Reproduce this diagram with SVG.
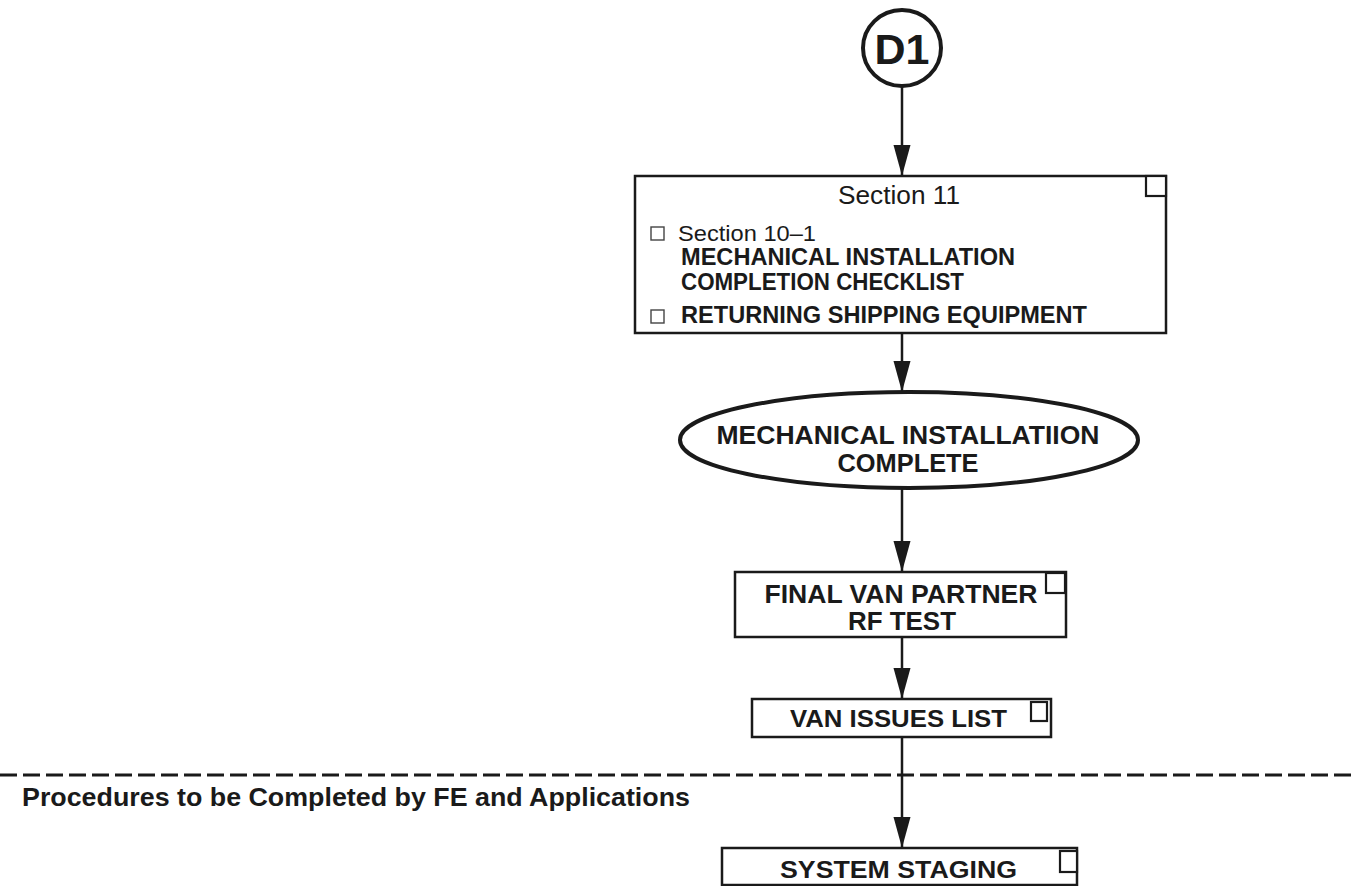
<svg xmlns="http://www.w3.org/2000/svg" width="1356" height="886" viewBox="0 0 1356 886">
  <defs>
    <marker id="arrow" markerUnits="userSpaceOnUse" markerWidth="32" markerHeight="18" refX="31" refY="8.5" orient="auto">
      <path d="M0,0 L31,8.5 L0,17 Z" fill="#1a1a1a"/>
    </marker>
    <style>
      .box { fill: #ffffff; stroke: #1a1a1a; stroke-width: 2.5; }
      .tick { fill: #ffffff; stroke: #1a1a1a; stroke-width: 2.2; }
      .chk { fill: none; stroke: #444; stroke-width: 1.4; }
      .wire { stroke: #1a1a1a; stroke-width: 2.5; fill: none; }
      .b { font-family: "Liberation Sans", Arial, sans-serif; font-weight: bold; fill: #1a1a1a; }
      .r { font-family: "Liberation Sans", Arial, sans-serif; fill: #1a1a1a; }
    </style>
  </defs>
  <rect width="1356" height="886" fill="#ffffff"/>

  <!-- section divider -->
  <line x1="0" y1="775" x2="1356" y2="775" stroke="#1a1a1a" stroke-width="2.8" stroke-dasharray="17 6"/>
  <text class="b" x="22" y="806" font-size="25" textLength="668" lengthAdjust="spacingAndGlyphs">Procedures to be Completed by FE and Applications</text>

  <!-- connectors -->
  <g id="connectors">
    <line class="wire" x1="902" y1="87" x2="902" y2="176" marker-end="url(#arrow)"/>
    <line class="wire" x1="902" y1="334" x2="902" y2="392" marker-end="url(#arrow)"/>
    <line class="wire" x1="902" y1="489" x2="902" y2="572" marker-end="url(#arrow)"/>
    <line class="wire" x1="902" y1="638" x2="902" y2="699" marker-end="url(#arrow)"/>
    <line class="wire" x1="902" y1="738" x2="902" y2="848" marker-end="url(#arrow)"/>
  </g>

  <!-- off-page connector D1 -->
  <g id="d1">
    <ellipse cx="902" cy="48" rx="39" ry="38" fill="#ffffff" stroke="#1a1a1a" stroke-width="4"/>
    <text class="b" x="902" y="64" font-size="43" text-anchor="middle">D1</text>
  </g>

  <!-- section 11 checklist -->
  <g id="section11">
    <rect class="box" x="635" y="176" width="531" height="157"/>
    <rect class="tick" x="1146" y="176" width="20" height="20"/>
    <text class="r" x="899" y="204" font-size="25" text-anchor="middle" textLength="122" lengthAdjust="spacingAndGlyphs">Section 11</text>
    <rect class="chk" x="651" y="227" width="13" height="13"/>
    <text class="r" x="678" y="241" font-size="22" textLength="138" lengthAdjust="spacingAndGlyphs">Section 10–1</text>
    <text class="b" x="681" y="265" font-size="23" textLength="334" lengthAdjust="spacingAndGlyphs">MECHANICAL INSTALLATION</text>
    <text class="b" x="681" y="290" font-size="23" textLength="283" lengthAdjust="spacingAndGlyphs">COMPLETION CHECKLIST</text>
    <rect class="chk" x="651" y="310" width="13" height="13"/>
    <text class="b" x="681" y="323" font-size="23" textLength="406" lengthAdjust="spacingAndGlyphs">RETURNING SHIPPING EQUIPMENT</text>
  </g>

  <!-- milestone -->
  <g id="mech-complete">
    <ellipse cx="909" cy="440" rx="229" ry="48" fill="#ffffff" stroke="#1a1a1a" stroke-width="4"/>
    <text class="b" x="908" y="444" font-size="26" text-anchor="middle" textLength="383" lengthAdjust="spacingAndGlyphs">MECHANICAL INSTALLATIION</text>
    <text class="b" x="908" y="472" font-size="26" text-anchor="middle" textLength="141" lengthAdjust="spacingAndGlyphs">COMPLETE</text>
  </g>

  <!-- RF test -->
  <g id="rf-test">
    <rect class="box" x="735" y="572" width="331" height="65"/>
    <rect class="tick" x="1046" y="573" width="19" height="20"/>
    <text class="b" x="901" y="603" font-size="25" text-anchor="middle" textLength="273" lengthAdjust="spacingAndGlyphs">FINAL VAN PARTNER</text>
    <text class="b" x="902" y="630" font-size="25" text-anchor="middle" textLength="108" lengthAdjust="spacingAndGlyphs">RF TEST</text>
  </g>

  <!-- issues list -->
  <g id="issues-list">
    <rect class="box" x="752" y="699" width="299" height="38"/>
    <rect class="tick" x="1031" y="702" width="16" height="19"/>
    <text class="b" x="790" y="727" font-size="23.5" textLength="217" lengthAdjust="spacingAndGlyphs">VAN ISSUES LIST</text>
  </g>

  <!-- staging -->
  <g id="system-staging">
    <rect class="box" x="722" y="848" width="355" height="37"/>
    <rect class="tick" x="1060" y="851" width="17" height="21"/>
    <text class="b" x="780" y="878" font-size="24" textLength="237" lengthAdjust="spacingAndGlyphs">SYSTEM STAGING</text>
  </g>
</svg>
